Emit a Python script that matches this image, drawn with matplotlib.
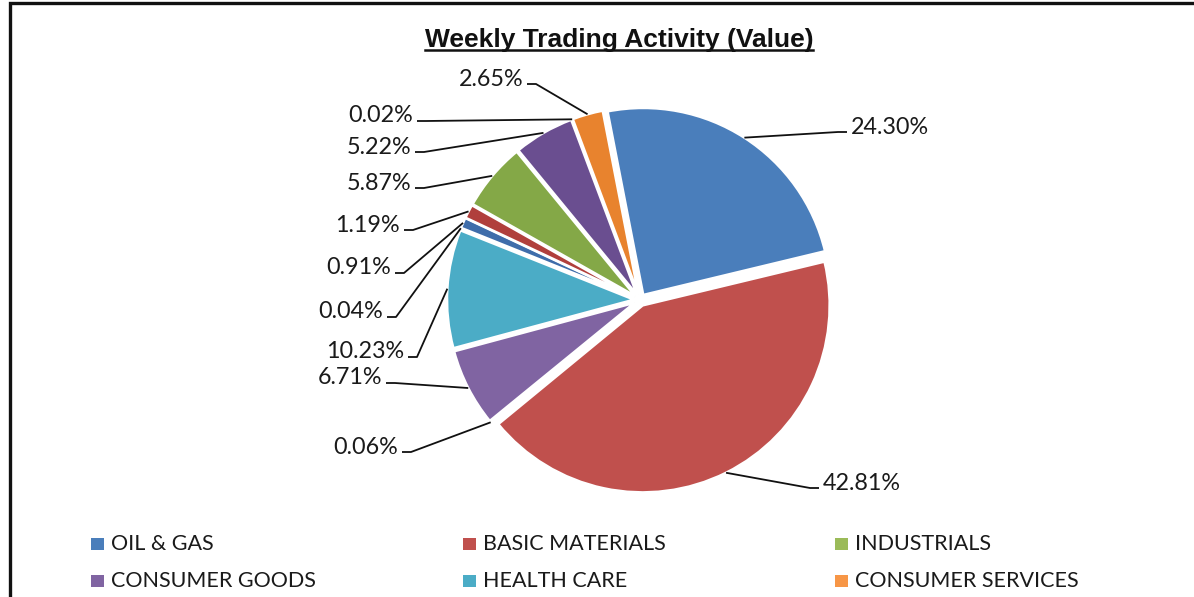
# Weekly trading activity pie chart

import numpy as np
import matplotlib
matplotlib.use("Agg")
import matplotlib.pyplot as plt
from matplotlib.patches import Rectangle

# sector names (only the first six are visible in the legend, the rest is cut off)
sectors = ["OIL & GAS", "BASIC MATERIALS", "INDUSTRIALS", "CONSUMER GOODS",
           "HEALTH CARE", "CONSUMER SERVICES", "TELECOMMUNICATIONS", "UTILITIES",
           "FINANCIALS", "TECHNOLOGY", "OTHERS", "UNCLASSIFIED"]
# share of weekly traded value (%)
shares = [24.30, 42.81, 0.06, 6.71, 10.23, 0.04, 0.91, 1.19, 5.87, 5.22, 0.02, 2.65]

colors = ["#4a7ebb", "#c0504d", "#9bbb59", "#8064a2", "#4bacc6", "#f79646",
          "#3f6daa", "#b03f3c", "#84a847", "#6a4e90", "#3a97b0", "#e8832e"]

W, H = 1194, 597


def py(y):
    # image y (from top) -> axes y
    return H - y


# label anchor points in image pixels: (x, y, side)
label_pos = [(851, 127, "l"), (823, 483, "l"), (398, 447, "r"), (382, 378, "r"),
             (404, 352, "r"), (383, 312, "r"), (391, 268, "r"), (400, 225, "r"),
             (411, 183, "r"), (411, 147, "r"), (413, 116, "r"), (523, 79, "r")]

legend_cols = [91, 463, 835]
legend_rows = [544, 581]


def main():
    fig = plt.figure(figsize=(W / 100, H / 100), dpi=100)
    ax = fig.add_axes([0, 0, 1, 1])

    wedges, _ = ax.pie(shares, colors=colors, startangle=101, counterclock=False,
                       explode=[6] * len(shares), radius=187, center=(640, py(300)),
                       wedgeprops=dict(edgecolor="white", linewidth=1.8))
    ax.set_xlim(0, W)
    ax.set_ylim(0, H)
    ax.set_aspect("equal")
    ax.axis("off")

    # data labels with leader lines
    for w, v, (lx, ly, side) in zip(wedges, shares, label_pos):
        th = np.deg2rad((w.theta1 + w.theta2) / 2)
        ax_, ay_ = w.center[0] + w.r * np.cos(th), w.center[1] + w.r * np.sin(th)
        if side == "r":
            ax.text(lx, py(ly), f"{v:.2f}%", ha="right", va="center",
                    fontsize=16.8, family="Lato", color="#1a1a1a")
            xs = [lx + 4, lx + 13, ax_]
        else:
            ax.text(lx, py(ly), f"{v:.2f}%", ha="left", va="center",
                    fontsize=16.8, family="Lato", color="#1a1a1a")
            xs = [lx - 4, lx - 13, ax_]
        ys = [py(ly + 5), py(ly + 5), ay_]
        ax.plot(xs, ys, color="#111111", lw=1.3, solid_capstyle="butt")

    # title with underline
    title = ax.text(619, py(40), "Weekly Trading Activity (Value)", ha="center",
                    va="center", fontsize=19, fontweight="bold",
                    family="Liberation Sans", color="#111111")
    fig.canvas.draw()
    bb = title.get_window_extent().transformed(ax.transData.inverted())
    ax.plot([bb.x0, bb.x1], [bb.y0 + 2, bb.y0 + 2], color="#111111", lw=1.8)

    # legend (row by row, three columns)
    for i in range(6):
        x = legend_cols[i % 3]
        y = legend_rows[i // 3]
        ax.add_patch(Rectangle((x, py(y + 6)), 13, 12, facecolor=colors[i],
                               edgecolor="none"))
        ax.text(x + 20, py(y), sectors[i], ha="left", va="center",
                fontsize=15.5, family="Lato", color="#1a1a1a")

    # chart frame (cropped at right and bottom)
    ax.add_patch(Rectangle((10, -20), 1400, py(3) + 20, fill=False,
                           edgecolor="#111111", lw=2.4))

    fig.savefig("out.png", dpi=100)


main()
